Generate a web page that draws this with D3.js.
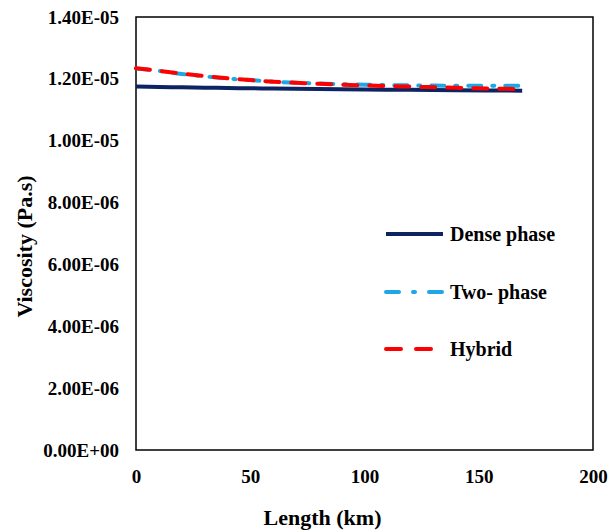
<!DOCTYPE html>
<html><head><meta charset="utf-8">
<script src="https://cdn.jsdelivr.net/npm/d3@7"></script>
<style>body{margin:0;background:#fff}svg{display:block}</style>
</head><body><div id="chart"></div>
<script>
const lengthKm = [0, 10, 20, 30, 40, 50, 60, 80, 100, 120, 140, 169];
const densePhase = [1.1750e-5, 1.1737e-5, 1.1725e-5, 1.1715e-5, 1.1705e-5, 1.1696e-5, 1.1688e-5, 1.1672e-5, 1.1658e-5, 1.1645e-5, 1.1633e-5, 1.1618e-5];
const twoPhase = [1.234e-5, 1.226e-5, 1.216e-5, 1.208e-5, 1.201e-5, 1.196e-5, 1.191e-5, 1.185e-5, 1.181e-5, 1.179e-5, 1.178e-5, 1.178e-5];
const hybrid = [1.234e-5, 1.226e-5, 1.217e-5, 1.209e-5, 1.202e-5, 1.196e-5, 1.191e-5, 1.184e-5, 1.179e-5, 1.175e-5, 1.171e-5, 1.167e-5];
const xTicks = [0, 50, 100, 150, 200];
const yTicks = [0, 2e-6, 4e-6, 6e-6, 8e-6, 1e-5, 1.2e-5, 1.4e-5];
const yTickLabels = ["0.00E+00","2.00E-06","4.00E-06","6.00E-06","8.00E-06","1.00E-05","1.20E-05","1.40E-05"];
const seriesNames = ["Dense phase", "Two- phase", "Hybrid"];

const W = 611, H = 532;
const m = {left: 136, right: 18, top: 17, bottom: 82};
const svg = d3.select("#chart").append("svg").attr("width", W).attr("height", H);
const x = d3.scaleLinear().domain([0, 200]).range([m.left, W - m.right]);
const y = d3.scaleLinear().domain([0, 1.4e-5]).range([H - m.bottom, m.top]);
const font = "'Liberation Serif', 'Times New Roman', serif";

// axes (labels only, no tick marks)
const xAxis = svg.append("g").attr("transform", `translate(0,${H - m.bottom})`)
  .call(d3.axisBottom(x).tickValues(xTicks).tickSize(0).tickPadding(20).tickFormat(d3.format("d")));
const yAxis = svg.append("g").attr("transform", `translate(${m.left},0)`)
  .call(d3.axisLeft(y).tickValues(yTicks).tickSize(0).tickPadding(17).tickFormat((d, i) => yTickLabels[i]));
[xAxis, yAxis].forEach(g => {
  g.select(".domain").remove();
  g.selectAll("text").attr("font-family", font).attr("font-weight", "bold").attr("font-size", 19).attr("fill", "#000");
});

// plot border
svg.append("rect").attr("x", x(0)).attr("y", y(1.4e-5))
  .attr("width", x(200) - x(0)).attr("height", y(0) - y(1.4e-5))
  .attr("fill", "none").attr("stroke", "#000").attr("stroke-width", 1.5);

const series = [
  {name: seriesNames[0], values: densePhase, color: "#0c2461", dash: null, width: 4},
  {name: seriesNames[1], values: twoPhase, color: "#1ea7e4", dash: "13,11,2,11", width: 4},
  {name: seriesNames[2], values: hybrid, color: "#ff0000", dash: "14,12", width: 4}
];
const line = d3.line().curve(d3.curveMonotoneX).x((d, i) => x(lengthKm[i])).y(d => y(d));
series.forEach(s => {
  svg.append("path").datum(s.values).attr("d", line).attr("fill", "none")
    .attr("stroke", s.color).attr("stroke-width", s.width)
    .attr("stroke-dasharray", s.dash).attr("stroke-linecap", s.dash ? "round" : "butt");
});

// legend
const legY = [234, 292, 349];
series.forEach((s, i) => {
  svg.append("line").attr("x1", 386).attr("x2", 443).attr("y1", legY[i]).attr("y2", legY[i])
    .attr("stroke", s.color).attr("stroke-width", s.width)
    .attr("stroke-dasharray", s.dash ? (i === 1 ? "13,14,2,14" : "15,15") : null)
    .attr("stroke-linecap", s.dash ? "round" : "butt");
  svg.append("text").attr("x", 450).attr("y", legY[i]).attr("dy", "0.35em")
    .attr("font-family", font).attr("font-weight", "bold").attr("font-size", 20).text(s.name);
});

// axis titles
svg.append("text").attr("x", (x(0) + x(200)) / 2 - 42).attr("y", 525).attr("text-anchor", "middle")
  .attr("font-family", font).attr("font-weight", "bold").attr("font-size", 22).text("Length (km)");
svg.append("text").attr("transform", `translate(24,${(y(0) + y(1.4e-5)) / 2 + 13}) rotate(-90)`)
  .attr("text-anchor", "middle").attr("dy", "0.35em")
  .attr("font-family", font).attr("font-weight", "bold").attr("font-size", 22).text("Viscosity (Pa.s)");
</script></body></html>
